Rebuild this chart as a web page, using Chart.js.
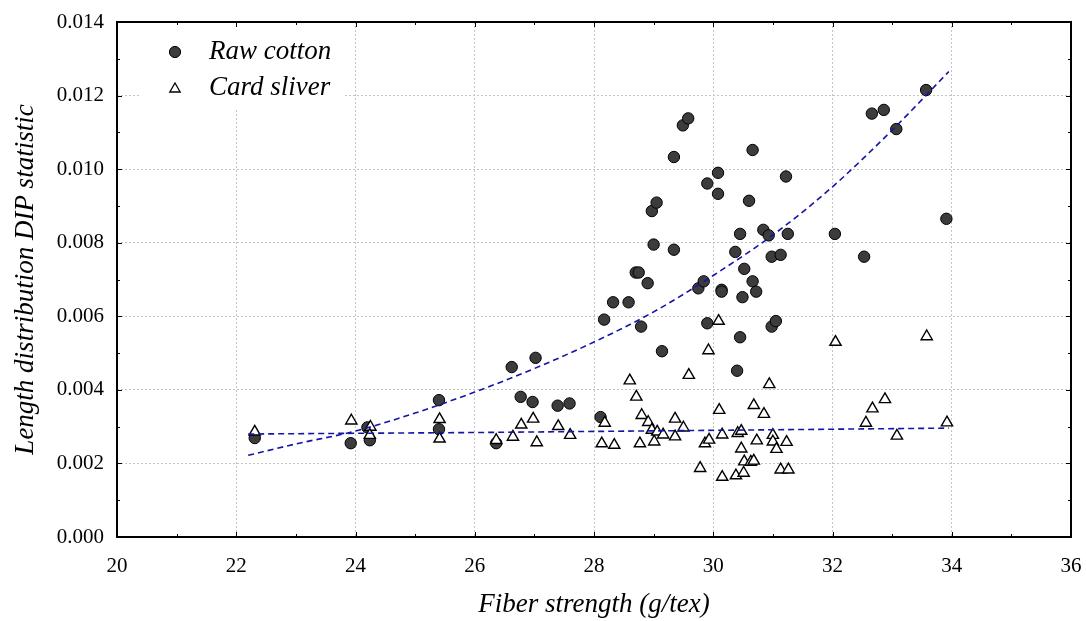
<!DOCTYPE html>
<html><head><meta charset="utf-8">
<script src="https://cdn.jsdelivr.net/npm/chart.js@4.4.1/dist/chart.umd.min.js"></script>
<style>html,body{margin:0;padding:0;background:#fff;}#wrap{width:1086px;height:621px;}</style>
</head><body><div id="wrap"><canvas id="c" width="1086" height="621"></canvas></div>
<script>
const rawX = [22.31,23.92,24.24,24.20,25.40,25.40,26.36,26.62,26.77,26.97,
  27.02,27.39,27.59,28.11,28.17,28.32,28.58,28.70,28.75,28.79,
  28.90,28.97,29.00,29.05,29.14,29.34,29.34,29.49,29.58,29.75,
  29.84,29.90,29.90,30.08,30.08,30.14,30.14,30.37,30.40,30.45,
  30.45,30.49,30.52,30.60,30.66,30.66,30.72,30.84,30.93,30.98,
  30.98,31.05,31.13,31.22,31.25,32.04,32.53,32.66,32.86,33.07,
  33.57,33.91];
const rawY = [0.00269,0.00255,0.00263,0.00298,0.00372,0.00293,0.00255,0.00462,0.00381,0.00367,
  0.00487,0.00357,0.00363,0.00326,0.00591,0.00638,0.00638,0.00719,0.00719,0.00572,
  0.00690,0.00886,0.00795,0.00909,0.00505,0.01033,0.00781,0.01119,0.01138,0.00676,
  0.00695,0.00961,0.00581,0.00990,0.00933,0.00672,0.00667,0.00775,0.00452,0.00824,
  0.00543,0.00652,0.00729,0.00914,0.01052,0.00695,0.00667,0.00835,0.00820,0.00762,
  0.00572,0.00587,0.00767,0.00980,0.00824,0.00824,0.00762,0.01151,0.01161,0.01109,
  0.01215,0.00865];
const cardX = [22.31,23.93,24.25,24.24,25.41,25.41,26.36,26.64,26.78,26.98,
  27.04,27.40,27.60,28.13,28.18,28.34,28.60,28.71,28.77,28.80,
  28.91,28.97,29.01,29.06,29.16,29.36,29.36,29.50,29.59,29.78,
  29.86,29.92,29.93,30.09,30.10,30.15,30.15,30.38,30.41,30.47,
  30.47,30.51,30.52,30.63,30.68,30.68,30.73,30.85,30.94,31.00,
  31.00,31.06,31.13,31.23,31.26,32.05,32.56,32.67,32.88,33.08,
  33.58,33.92];
const cardY = [0.00286,0.00316,0.00299,0.00277,0.00320,0.00267,0.00263,0.00272,0.00305,0.00321,
  0.00257,0.00301,0.00277,0.00254,0.00310,0.00250,0.00425,0.00381,0.00254,0.00331,
  0.00312,0.00291,0.00259,0.00286,0.00278,0.00321,0.00273,0.00297,0.00440,0.00187,
  0.00254,0.00507,0.00264,0.00587,0.00345,0.00278,0.00163,0.00167,0.00282,0.00288,
  0.00240,0.00174,0.00205,0.00204,0.00207,0.00358,0.00262,0.00334,0.00415,0.00277,
  0.00259,0.00239,0.00183,0.00258,0.00183,0.00530,0.00310,0.00349,0.00374,0.00275,
  0.00545,0.00311];
const rawFitX = [22.2,23,24,25,26,27,28,29,30,31,32,33,33.95];
const rawFitY = [0.00222,0.00253,0.00288,0.00337,0.00394,0.00458,0.00530,0.00612,0.00711,0.00821,0.00952,0.01106,0.01265];
const cardFitX = [22.2,26,30,33.95];
const cardFitY = [0.00280,0.00284,0.00290,0.00296];
const seriesNames = ['Raw cotton','Card sliver'];
const xTitle = 'Fiber strength (g/tex)';
const yTitle = 'Length distribution DIP statistic';
const xMin = 20, xMax = 36, xStep = 2;
const yMin = 0, yMax = 0.014, yStep = 0.002;

const pts = (xs, ys) => xs.map((x, i) => ({x: x, y: ys[i]}));
const SERIF = "'Liberation Serif','Times New Roman',serif";
const FIT = '#1414a8';

const framePlugin = {
  id: 'frame',
  beforeDatasetsDraw(chart) {
    const ctx = chart.ctx;
    ctx.save();
    ctx.fillStyle = '#ffffff';
    ctx.fillRect(140, 24, 205, 84);
    ctx.restore();
  },
  afterDatasetsDraw(chart) {
    const {ctx, chartArea: a, scales} = chart;
    ctx.save();
    ctx.strokeStyle = '#000';
    ctx.lineWidth = 1;
    for (let i = 0; i <= (xMax - xMin); i++) {
      const px = Math.round(scales.x.getPixelForValue(xMin + i)) + 0.5;
      const len = (i % 2 === 0) ? 5 : 3;
      ctx.beginPath();
      ctx.moveTo(px, a.bottom); ctx.lineTo(px, a.bottom - len);
      ctx.moveTo(px, a.top); ctx.lineTo(px, a.top + len);
      ctx.stroke();
    }
    for (let i = 0; i <= 14; i++) {
      const py = Math.round(scales.y.getPixelForValue(i * 0.001)) + 0.5;
      const len = (i % 2 === 0) ? 5 : 3;
      ctx.beginPath();
      ctx.moveTo(a.left, py); ctx.lineTo(a.left + len, py);
      ctx.moveTo(a.right, py); ctx.lineTo(a.right - len, py);
      ctx.stroke();
    }
    ctx.lineWidth = 2;
    ctx.strokeRect(a.left, a.top, a.right - a.left, a.bottom - a.top);
    // legend
    ctx.fillStyle = '#3c3c3c';
    ctx.strokeStyle = '#000';
    ctx.lineWidth = 1;
    ctx.beginPath(); ctx.arc(175, 52, 5.6, 0, Math.PI * 2); ctx.fill(); ctx.stroke();
    ctx.fillStyle = '#fff';
    ctx.lineWidth = 1.3;
    const r = 6, cx = 175, cy = 89;
    ctx.beginPath();
    ctx.moveTo(cx, cy - r);
    ctx.lineTo(cx + r * Math.sin(Math.PI * 2 / 3), cy - r * Math.cos(Math.PI * 2 / 3));
    ctx.lineTo(cx + r * Math.sin(Math.PI * 4 / 3), cy - r * Math.cos(Math.PI * 4 / 3));
    ctx.closePath(); ctx.fill(); ctx.stroke();
    ctx.fillStyle = '#000';
    ctx.font = "italic 27px " + SERIF;
    ctx.textBaseline = 'middle';
    ctx.textAlign = 'left';
    ctx.fillText(seriesNames[0], 209, 52);
    ctx.fillText(seriesNames[1], 209, 88);
    ctx.restore();
  }
};

new Chart(document.getElementById('c'), {
  type: 'scatter',
  data: {
    datasets: [
      {label: 'Raw cotton fit', data: pts(rawFitX, rawFitY), showLine: true, pointRadius: 0,
       borderColor: FIT, borderWidth: 1.6, borderDash: [6, 4], cubicInterpolationMode: 'monotone', fill: false},
      {label: 'Card sliver fit', data: pts(cardFitX, cardFitY), showLine: true, pointRadius: 0,
       borderColor: FIT, borderWidth: 1.6, borderDash: [6, 4], fill: false},
      {label: seriesNames[1], data: pts(cardX, cardY), pointStyle: 'triangle', pointRadius: 6.5,
       backgroundColor: '#ffffff', borderColor: '#000000', borderWidth: 1.4},
      {label: seriesNames[0], data: pts(rawX, rawY), pointStyle: 'circle', pointRadius: 5.7,
       backgroundColor: '#3c3c3c', borderColor: '#000000', borderWidth: 1}
    ]
  },
  options: {
    responsive: false,
    animation: false,
    devicePixelRatio: 1,
    layout: {padding: {left: 0, top: 22, right: 15, bottom: 0}},
    plugins: {legend: {display: false}, tooltip: {enabled: false}},
    scales: {
      x: {
        type: 'linear', min: xMin, max: xMax,
        ticks: {stepSize: xStep, color: '#000', font: {family: SERIF, size: 21}, padding: 17,
                callback: v => String(v)},
        grid: {color: '#c4c4c4', lineWidth: 1, drawTicks: false},
        border: {display: false, dash: [2, 2]},
        title: {display: true, text: xTitle, color: '#000', font: {family: SERIF, size: 27, style: 'italic'},
                padding: {top: 0, bottom: 0}},
        afterFit: s => { s.height = 84; s.paddingLeft = 0; s.paddingRight = 0; }
      },
      y: {
        type: 'linear', min: yMin, max: yMax,
        ticks: {stepSize: yStep, color: '#000', font: {family: SERIF, size: 21}, padding: 13,
                callback: v => v.toFixed(3)},
        grid: {color: '#c4c4c4', lineWidth: 1, drawTicks: false},
        border: {display: false, dash: [2, 2]},
        title: {display: true, text: yTitle, color: '#000', font: {family: SERIF, size: 27, style: 'italic'},
                padding: {top: 10, bottom: 0}},
        afterFit: s => { s.width = 117; s.paddingTop = 0; s.paddingBottom = 0; }
      }
    }
  },
  plugins: [framePlugin]
});
</script></body></html>
